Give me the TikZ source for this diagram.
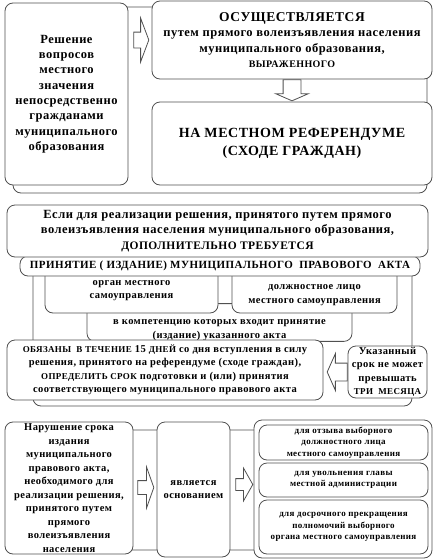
\documentclass[tikz,border=0pt]{standalone}
\usepackage{fontspec}
\setmainfont{Liberation Serif}[LetterSpace=4]
\definecolor{LineGrey}{RGB}{80, 80, 80}
\usetikzlibrary{arrows.meta, positioning, calc, shapes.arrows}

\begin{document}
\begin{tikzpicture}[
    x=1pt, y=-1pt,
    every node/.style={align=center, text=black},
    box/.style={draw=LineGrey, fill=white, rounded corners=8pt, line width=0.8pt, inner sep=1pt},
    frame/.style={draw=LineGrey, rounded corners=8pt, line width=0.8pt},
    harrow/.style={single arrow, draw=LineGrey, fill=white, line width=0.8pt,
                   inner xsep=0pt, single arrow head indent=0pt},
    varrow/.style={harrow, inner ysep=0pt},
    big/.style={font=\bfseries\fontsize{14}{18}\selectfont},
    mid/.style={font=\bfseries\fontsize{12.5}{15.3}\selectfont},
    small/.style={font=\bfseries\fontsize{10.5}{13.5}\selectfont},
    tiny/.style={font=\bfseries\fontsize{9}{11.5}\selectfont}
]
\useasboundingbox (0,0) rectangle (437,560);

% group frames
\draw[frame] (13,7) rectangle (427,193);
\draw[frame] (33,262) rectangle (412,406);
\draw[frame] (60,430) rectangle (400,550);

% first block
\node[box, mid, minimum width=123, minimum height=182] (resh) at (66.5,94)
    {Решение\\вопросов\\местного\\значения\\непосредственно\\гражданами\\муниципального\\образования};
\node[box, mid, minimum width=280, minimum height=78] (osush) at (292,40)
    {{\fontsize{13.5}{15}\selectfont ОСУЩЕСТВЛЯЕТСЯ}\\путем прямого волеизъявления населения\\муниципального образования,\\{\fontsize{10}{15}\selectfont ВЫРАЖЕННОГО}};
\node[box, big, minimum width=280, minimum height=83] (refer) at (292,143.5)
    {НА МЕСТНОМ РЕФЕРЕНДУМЕ\\(СХОДЕ ГРАЖДАН)};

\node[harrow, anchor=tail, minimum height=15, inner ysep=7.5pt,
      single arrow head extend=14pt, single arrow tip angle=139] (a1)
    at ($(resh.east |- osush.west)+(5,0)$) {};
\node[varrow, anchor=tail, shape border rotate=270, minimum height=21, inner xsep=8.5pt,
      single arrow head extend=7.5pt, single arrow tip angle=133] (a2)
    at (osush.south) {};

% second block
\node[box, small, minimum width=265, minimum height=37] (kompet) at (219.5,322.5)
    {\rule{0pt}{20pt}в компетенцию которых входит принятие\\(издание) указанного акта};
\node[box, small, minimum width=173, minimum height=45] (organ) at (131.5,290.5)
    {орган местного\\самоуправления};
\node[box, small, minimum width=165, minimum height=45] (dolzh) at (314.5,290.5)
    {\rule{0pt}{14pt}должностное лицо\\местного самоуправления};
\node[box, font=\bfseries\fontsize{11}{13}\selectfont, minimum width=400, minimum height=20] (prin) at (220,266)
    {ПРИНЯТИЕ ( ИЗДАНИЕ) МУНИЦИПАЛЬНОГО\ \ ПРАВОВОГО\ \ АКТА};
\node[box, mid, minimum width=421, minimum height=52] (esli) at (217.5,231)
    {Если для реализации решения, принятого путем прямого\\волеизъявления населения муниципального образования,\\{\fontsize{11.5}{15}\selectfont ДОПОЛНИТЕЛЬНО ТРЕБУЕТСЯ}};

\node[box, small, minimum width=316, minimum height=60] (obyaz) at (165,370)
    {{\fontsize{9}{13.5}\selectfont ОБЯЗАНЫ\ \ В ТЕЧЕНИЕ} 15 {\fontsize{9}{13.5}\selectfont ДНЕЙ} со дня вступления в силу\\
     решения, принятого на референдуме (сходе граждан),\\
     {\fontsize{9}{13.5}\selectfont ОПРЕДЕЛИТЬ СРОК} подготовки и (или) принятия\\
     соответствующего муниципального правового акта};
\node[box, small, minimum width=79, minimum height=52] (ukaz) at (387.5,372)
    {Указанный\\срок не может\\превышать\\{\fontsize{9}{13.5}\selectfont ТРИ\ \ МЕСЯЦА}};
\node[harrow, anchor=tail, shape border rotate=180, minimum height=20, inner ysep=8.5pt,
      single arrow head extend=9.5pt, single arrow tip angle=132] (a3)
    at (ukaz.west) {};

% third block
\node[box, small, minimum width=128, minimum height=132] (narush) at (69,488)
    {Нарушение срока\\издания\\муниципального\\правового акта,\\необходимого для\\реализации решения,\\принятого путем\\прямого\\волеизъявления\\населения};
\node[box, small, minimum width=73, minimum height=135] (yavl) at (193.5,489.5)
    {является\\основанием};
\node[box, minimum width=178, minimum height=138] (grp) at (343,489) {};
\node[box, tiny, minimum width=169, minimum height=35] (d1) at (343.5,442.5)
    {для отзыва выборного\\должностного лица\\местного самоуправления};
\node[box, tiny, minimum width=169, minimum height=34] (d2) at (343.5,480)
    {для увольнения главы\\местной администрации};
\node[box, tiny, minimum width=169, minimum height=54] (d3) at (343.5,527)
    {для досрочного прекращения\\полномочий выборного\\органа местного самоуправления};

\node[harrow, anchor=tail, minimum height=16, inner ysep=6.5pt,
      single arrow head extend=13.5pt, single arrow tip angle=141] (a4)
    at ($(narush.east |- yavl.west)+(4,-2)$) {};
\node[harrow, anchor=tail, minimum height=17, inner ysep=5.5pt,
      single arrow head extend=10.5pt, single arrow tip angle=121] (a5)
    at ($(yavl.east)+(5,-5)$) {};
\end{tikzpicture}
\end{document}
